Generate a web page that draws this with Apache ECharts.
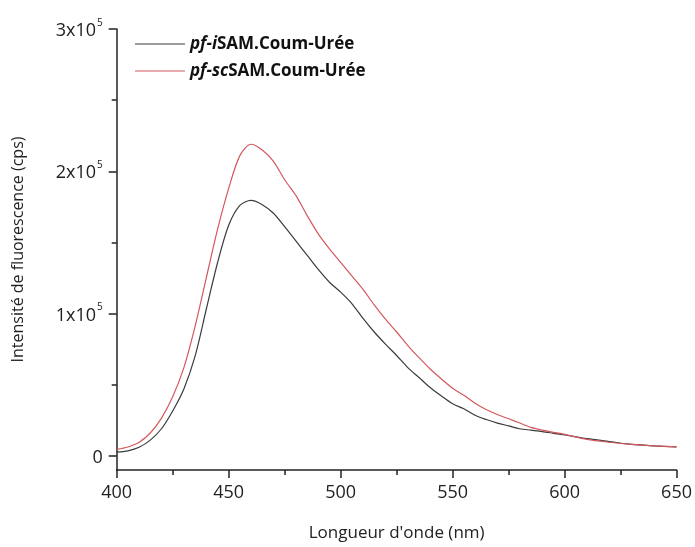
<!DOCTYPE html>
<html>
<head>
<meta charset="utf-8">
<script src="https://cdn.jsdelivr.net/npm/echarts@6/dist/echarts.min.js"></script>
<style>
html,body{margin:0;padding:0;background:#fff;}
#chart{width:695px;height:547px;}
</style>
</head>
<body>
<div id="chart"></div>
<script>
const wavelengths = [400,405,410,415,420,425,430,435,440,445,450,455,460,465,470,475,480,485,490,495,500,505,510,515,520,525,530,535,540,545,550,555,560,565,570,575,580,585,590,595,600,610,620,630,640,650];
const iSAM = [2500,3500,6000,11000,19000,31500,47000,70000,103000,135500,162000,176000,179500,176500,170500,161000,151000,141000,131000,122000,115000,107000,96500,87000,78500,70500,62000,55000,48000,42000,36500,33000,28500,25500,23000,21000,19000,18000,17000,15800,14600,12000,10000,8000,7000,6200];
const scSAM = [4500,6200,9500,16000,26500,41500,62000,91000,125000,159000,188000,211000,219000,215000,207000,194000,183000,169000,156000,145500,136000,126500,117000,106000,96000,87000,77500,69000,61000,54000,47500,42500,37000,32500,29000,26000,23000,20000,18000,16500,15000,11500,9500,8000,7000,6200];
const seriesNames = ['pf-iSAM.Coum-Urée', 'pf-scSAM.Coum-Urée'];
const yMajorTicks = [0, 100000, 200000, 300000];
const yMinorTicks = [50000, 150000, 250000];

const FONT = 'Open Sans';
const chart = echarts.init(document.getElementById('chart'), null, {renderer: 'canvas'});

function yLabel(v) {
  if (v === 0) return '{b|0}';
  return '{b|' + (v / 100000) + 'x10}{s|5}';
}

const option = {
  backgroundColor: '#fff',
  animation: false,
  grid: {left: 116.7, right: 16, top: 29, bottom: 73.7, containLabel: false},
  legend: {
    left: 130,
    top: 30,
    orient: 'vertical',
    itemWidth: 50,
    itemHeight: 1,
    itemGap: 9,
    icon: 'rect',
    data: seriesNames,
    textStyle: {
      fontFamily: FONT, fontSize: 17, color: '#111', lineHeight: 18,
      rich: {
        i: {fontFamily: FONT, fontSize: 17, fontWeight: 'bold', fontStyle: 'italic', color: '#111'},
        b: {fontFamily: FONT, fontSize: 17, fontWeight: 'bold', color: '#111'}
      }
    },
    formatter: function (name) {
      const idx = name.indexOf('SAM');
      return '{i|' + name.slice(0, idx) + '}{b|' + name.slice(idx) + '}';
    }
  },
  xAxis: {
    type: 'value',
    min: 400, max: 650, interval: 50,
    name: "Longueur d'onde (nm)",
    nameLocation: 'middle',
    nameGap: 55,
    nameTextStyle: {fontFamily: FONT, fontSize: 17, color: '#222'},
    axisLine: {show: true, onZero: false, lineStyle: {color: '#222', width: 1.5}},
    axisTick: {show: true, length: 8, lineStyle: {color: '#222', width: 1.5}},
    minorTick: {show: true, splitNumber: 2, length: 5, lineStyle: {color: '#222', width: 1.5}},
    splitLine: {show: false},
    axisLabel: {fontFamily: FONT, fontSize: 18, color: '#222', margin: 14}
  },
  yAxis: [
    {
      type: 'value',
      min: -10000, max: 300000,
      name: 'Intensité de fluorescence (cps)',
      nameLocation: 'middle',
      nameRotate: 90,
      nameGap: 90,
      nameTextStyle: {fontFamily: FONT, fontSize: 16, color: '#222'},
      axisLine: {show: true, onZero: false, lineStyle: {color: '#222', width: 1.5}},
      axisTick: {show: true, length: 8, customValues: yMajorTicks, lineStyle: {color: '#222', width: 1.5}},
      splitLine: {show: false},
      axisLabel: {
        customValues: yMajorTicks,
        margin: 14,
        formatter: yLabel,
        rich: {
          b: {fontFamily: FONT, fontSize: 18, color: '#222', lineHeight: 22, verticalAlign: 'bottom'},
          s: {fontFamily: FONT, fontSize: 10, color: '#222', lineHeight: 22, verticalAlign: 'top', padding: [0, 0, 0, 1]}
        }
      }
    },
    {
      type: 'value',
      min: -10000, max: 300000,
      position: 'left',
      axisLine: {show: false},
      axisTick: {show: true, length: 5, customValues: yMinorTicks, lineStyle: {color: '#222', width: 1.5}},
      axisLabel: {show: false},
      splitLine: {show: false}
    }
  ],
  series: [
    {
      name: seriesNames[0],
      type: 'line',
      xAxisIndex: 0, yAxisIndex: 0,
      showSymbol: false, symbol: 'none',
      smooth: 0.3,
      color: '#3c3c3c',
      lineStyle: {color: '#3c3c3c', width: 1.2},
      data: wavelengths.map((w, i) => [w, iSAM[i]])
    },
    {
      name: seriesNames[1],
      type: 'line',
      xAxisIndex: 0, yAxisIndex: 0,
      showSymbol: false, symbol: 'none',
      smooth: 0.3,
      color: '#d4585d',
      lineStyle: {color: '#d4585d', width: 1.2},
      data: wavelengths.map((w, i) => [w, scSAM[i]])
    }
  ]
};
chart.setOption(option);
</script>
</body>
</html>
